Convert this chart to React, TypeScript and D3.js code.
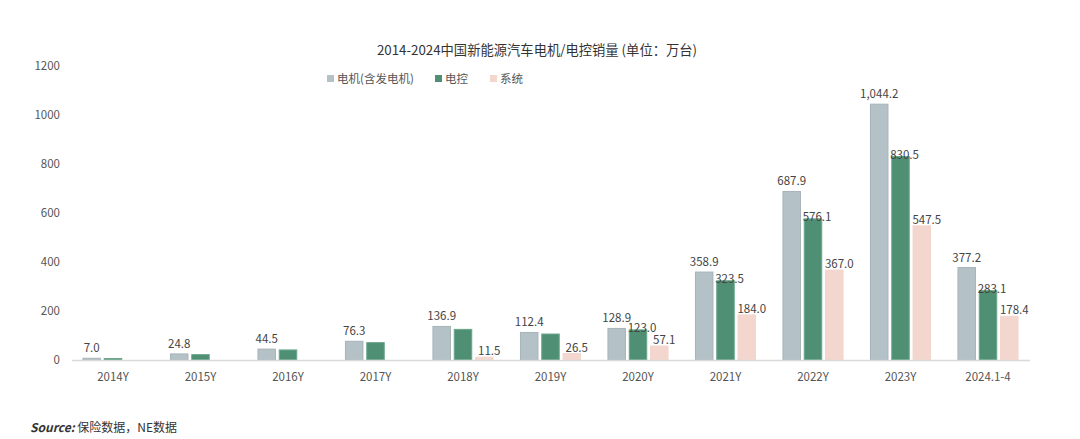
import React from "react";
import * as d3 from "d3";

const categories = ["2014Y","2015Y","2016Y","2017Y","2018Y","2019Y","2020Y","2021Y","2022Y","2023Y","2024.1-4"];
const seriesNames = ["电机(含发电机)", "电控", "系统"];
const motor = [7.0, 24.8, 44.5, 76.3, 136.9, 112.4, 128.9, 358.9, 687.9, 1044.2, 377.2];
const controller = [6.0, 22.0, 41.0, 71.0, 125.0, 106.0, 123.0, 323.5, 576.1, 830.5, 283.1];
const system = [0, 0, 0, 0, 11.5, 26.5, 57.1, 184.0, 367.0, 547.5, 178.4];
const motorLabels = [true, true, true, true, true, true, true, true, true, true, true];
const controllerLabels = [false, false, false, false, false, false, true, true, true, true, true];
const systemLabels = [false, false, false, false, true, true, true, true, true, true, true];
const yTicks = [0, 200, 400, 600, 800, 1000, 1200];

const colors = ["#b4c2c7", "#4f9074", "#f3d6cd"];
const strokes = ["#a6b3b8", "#6aa68b", "#f3d6cd"];

const FONT = "'Noto Sans CJK SC', 'Noto Sans', sans-serif";

export default function App() {
  const W = 1080, H = 439;
  const x = d3.scaleBand<string>().domain(categories).range([69.25, 1031.75]).padding(0);
  const y = d3.scaleLinear().domain([0, 1200]).range([360, 66]);
  const barW = 17.5;
  const step = 21.3;
  const series = [motor, controller, system];
  const showLabels = [motorLabels, controllerLabels, systemLabels];
  const labelDy = [-6, 2, -2];
  const labelDx = [0, 4, 5];
  const fmt = d3.format(",.1f");
  const fs = 11.5;

  return (
    <svg width={W} height={H} style={{ display: "block", position: "absolute", left: 0, top: 0 }} fontFamily={FONT}>
      <rect x={0} y={0} width={W} height={H} fill="#fff" />
      <text x={537} y={55} textAnchor="middle" fontSize={13.3} fill="#333">
        2014-2024中国新能源汽车电机/电控销量 (单位：万台)
      </text>
      {[{ sx: 327, tx: 337 }, { sx: 435, tx: 445 }, { sx: 490, tx: 500 }].map((l, i) => (
        <g key={i}>
          <rect x={l.sx} y={75} width={7} height={7} fill={colors[i]} />
          <text x={l.tx} y={83} fontSize={fs} fill="#555">{seriesNames[i]}</text>
        </g>
      ))}
      {yTicks.map((t) => (
        <text key={t} x={60} y={y(t) + 4} textAnchor="end" fontSize={fs} fill="#555">{t}</text>
      ))}
      {series.map((vals, si) => (
        <g key={si}>
          {vals.map((v, ci) => {
            const cx = (x(categories[ci]) as number) + x.bandwidth() / 2 + (si - 1) * step;
            const h = 360 - y(v);
            if (v <= 0) return null;
            return (
              <rect key={ci} x={cx - barW / 2} y={y(v)} width={barW} height={h}
                fill={colors[si]} stroke={strokes[si]} strokeWidth={1} />
            );
          })}
        </g>
      ))}
      <line x1={72} x2={1030} y1={360.5} y2={360.5} stroke="#d9d9d9" strokeWidth={1.5} />
      {series.map((vals, si) => (
        <g key={"l" + si}>
          {vals.map((v, ci) => {
            if (!showLabels[si][ci]) return null;
            const cx = (x(categories[ci]) as number) + x.bandwidth() / 2 + (si - 1) * step;
            return (
              <text key={ci} x={cx + labelDx[si]} y={y(v) + labelDy[si]} textAnchor="middle" fontSize={fs} fill="#444">{fmt(v)}</text>
            );
          })}
        </g>
      ))}
      {categories.map((c) => (
        <text key={c} x={(x(c) as number) + x.bandwidth() / 2} y={381} textAnchor="middle" fontSize={fs} fill="#555">{c}</text>
      ))}
      <text x={30} y={432} fontSize={12} fill="#333">
        <tspan fontWeight="bold" fontStyle="italic">Source:</tspan>
        <tspan> 保险数据，NE数据</tspan>
      </text>
    </svg>
  );
}
